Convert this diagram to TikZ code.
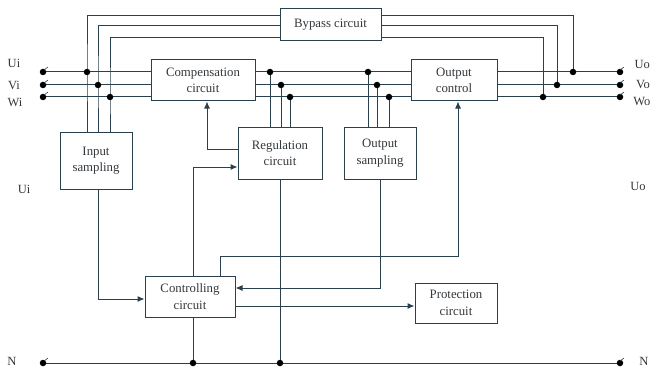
\documentclass[tikz,border=0pt]{standalone}
\usepackage{fontspec}
\setmainfont{Liberation Serif}
\usetikzlibrary{arrows.meta,calc}
\definecolor{lc}{HTML}{2A404C}
\definecolor{tc}{HTML}{33383C}
\begin{document}
\begin{tikzpicture}[x=1pt,y=-1pt,
  box/.style={draw=lc,line width=1pt,fill=white,align=center,text=tc,
    font=\fontsize{12.8}{16.5}\selectfont,inner sep=0pt},
  wire/.style={draw=lc,line width=1pt},
  arr/.style={wire,-{Latex[length=7pt,width=6pt]}},
  jdot/.style={circle,fill=black,inner sep=0pt,minimum size=6.5pt},
  lbl/.style={text=tc,font=\fontsize{12.5}{15}\selectfont,inner sep=0pt}]
\useasboundingbox (0,0) rectangle (651,369);
% boxes
\node[box,minimum width=101pt,minimum height=32pt] (byp) at (330.5,25) {Bypass circuit};
\node[box,minimum width=104pt,minimum height=41pt] (comp) at (203,80.5) {Compensation\\circuit};
\node[box,minimum width=86pt,minimum height=41pt] (oc) at (454,80.5) {Output\\control};
\node[box,minimum width=72pt,minimum height=57pt] (inp) at (96,160.5) {Input\\sampling};
\node[box,minimum width=84pt,minimum height=52pt] (reg) at (280,153) {Regulation\\circuit};
\node[box,minimum width=72pt,minimum height=52pt] (ops) at (380,153) {Output\\sampling};
\node[box,minimum width=90pt,minimum height=41pt] (ctl) at (190,296.5) {Controlling\\circuit};
\node[box,minimum width=82pt,minimum height=40pt] (prot) at (456,303) {Protection\\circuit};
% terminals
\coordinate (tUL) at (43,72); \coordinate (tVL) at (43,85); \coordinate (tWL) at (43,97);
\coordinate (tUR) at (620,72); \coordinate (tVR) at (620,85); \coordinate (tWR) at (620,97);
\coordinate (tNL) at (43,363); \coordinate (tNR) at (620,363);
% junctions
\coordinate (jUi) at (87,72); \coordinate (jVi) at (98,85); \coordinate (jWi) at (110,97);
\coordinate (jUo) at (573,72); \coordinate (jVo) at (557,85); \coordinate (jWo) at (543,97);
\coordinate (jUc) at (270,72); \coordinate (jVc) at (281,85); \coordinate (jWc) at (290,97);
\coordinate (jUs) at (368,72); \coordinate (jVs) at (377,85); \coordinate (jWs) at (389,97);
\coordinate (jN1) at (193,363); \coordinate (jN2) at (280,363);
% phase lines
\foreach \p in {U,V,W}{
  \draw[wire] (t\p L) -- (comp.west |- t\p L);
  \draw[wire] (comp.east |- t\p L) -- (oc.west |- t\p L);
  \draw[wire] (oc.east |- t\p R) -- (t\p R);
}
\draw[wire] (tNL) -- (tNR);
% bypass
\draw[wire] (jUi |- inp.north) -- (jUi) |- ([yshift=9pt]byp.west);
\draw[wire] (jVi |- inp.north) -- (jVi) |- ([yshift=-1pt]byp.west);
\draw[wire] (jWi |- inp.north) -- (jWi) |- ([yshift=-13pt]byp.west);
\draw[wire] ([yshift=9pt]byp.east) -| (jUo);
\draw[wire] ([yshift=-1pt]byp.east) -| (jVo);
\draw[wire] ([yshift=-13pt]byp.east) -| (jWo);
% sampling taps
\foreach \p in {U,V,W}{
  \draw[wire] (j\p c) -- (j\p c |- reg.north);
  \draw[wire] (j\p s) -- (j\p s |- ops.north);
}
% control connections
\draw[arr] ([yshift=4pt]reg.west) -| ([xshift=4pt]comp.south);
\draw[arr] ([xshift=3pt]ctl.north) |- ([yshift=-14pt]reg.west);
\draw[arr] ([xshift=30pt]ctl.north) -- ++(0,-19) -| ([xshift=4pt]oc.south);
\draw[arr] (ops.south) |- ([yshift=8.5pt]ctl.east);
\draw[arr] ([yshift=-9.5pt]ctl.east) -- ([yshift=-9.5pt]ctl.east -| prot.west);
\draw[arr] (jVi |- inp.south) |- ([yshift=-2.5pt]ctl.west);
\draw[wire] ([xshift=3pt]ctl.south) -- (jN1);
\draw[wire] (reg.south) -- (jN2);
% dots
\foreach \j in {jUi,jVi,jWi,jUo,jVo,jWo,jUc,jVc,jWc,jUs,jVs,jWs,jN1,jN2}
  \node[jdot] at (\j) {};
\foreach \t in {tUL,tVL,tWL,tNL}{
  \node[jdot] at (\t) {};
  \draw[lc,line width=0.6pt] ($(\t)+(1,-2)$) -- ($(\t)+(5,-5)$);
}
\foreach \t in {tUR,tVR,tWR,tNR}{
  \node[jdot] at (\t) {};
  \draw[lc,line width=0.6pt] ($(\t)+(0,-2)$) -- ($(\t)+(4,-5)$);
}
% labels
\node[lbl] (lUi) at (14,63) {Ui};
\node[lbl] (lVi) at (14,85) {Vi};
\node[lbl] (lWi) at (15,102) {Wi};
\node[lbl] (lUi2) at (24,189) {Ui};
\node[lbl] (lNL) at (12,361) {N};
\node[lbl,anchor=east] (lUo) at (650,64) {Uo};
\node[lbl,anchor=east] (lVo) at (650,85) {Vo};
\node[lbl,anchor=east] (lWo) at (650.5,102) {Wo};
\node[lbl] (lUo2) at (638,186) {Uo};
\node[lbl] (lNR) at (644,361) {N};
\end{tikzpicture}
\end{document}
